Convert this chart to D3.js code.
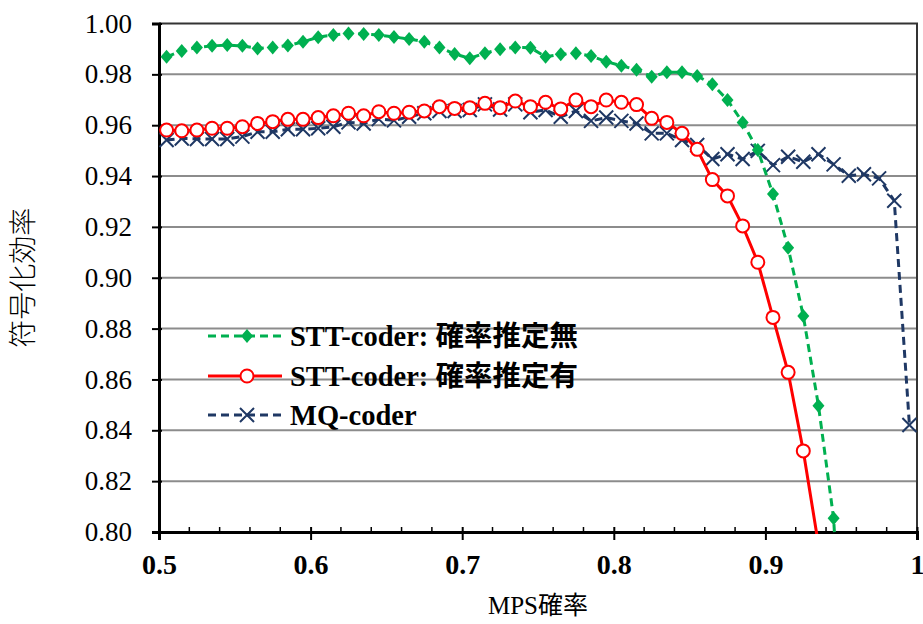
<!DOCTYPE html>
<html>
<head>
<meta charset="utf-8">
<script src="https://cdn.jsdelivr.net/npm/d3@7"></script>
<style>
  body { margin: 0; background: #fff; }
  svg text { font-family: "Liberation Serif", "Times New Roman", "Noto Sans CJK JP", serif; }
</style>
</head>
<body>
<div id="chart"></div>
<script>
// MPS probability (x) for each measured point
var mpsProb = [0.505, 0.515, 0.525, 0.535, 0.545, 0.555, 0.565, 0.575, 0.585, 0.595,
               0.605, 0.615, 0.625, 0.635, 0.645, 0.655, 0.665, 0.675, 0.685, 0.695,
               0.705, 0.715, 0.725, 0.735, 0.745, 0.755, 0.765, 0.775, 0.785, 0.795,
               0.805, 0.815, 0.825, 0.835, 0.845, 0.855, 0.865, 0.875, 0.885, 0.895,
               0.905, 0.915, 0.925, 0.935, 0.945, 0.955, 0.965, 0.975, 0.985, 0.995];

// STT-coder without probability estimation
var sttNoEst = [0.9869, 0.9892, 0.9906, 0.9912, 0.9915, 0.9912, 0.9902, 0.9906, 0.9913, 0.9928,
                0.9946, 0.9955, 0.9961, 0.9959, 0.9955, 0.9947, 0.9939, 0.9928, 0.9906, 0.9880,
                0.9863, 0.9883, 0.9899, 0.9906, 0.9905, 0.9869, 0.9879, 0.9883, 0.9872, 0.9850,
                0.9834, 0.9818, 0.9791, 0.9808, 0.9808, 0.9794, 0.9761, 0.9699, 0.9611, 0.9502,
                0.9329, 0.9118, 0.8850, 0.8497, 0.8054, 0.70];

// STT-coder with probability estimation
var sttEst = [0.9581, 0.9578, 0.9581, 0.9588, 0.9588, 0.9594, 0.9607, 0.9614, 0.9623, 0.9623,
              0.9630, 0.9637, 0.9647, 0.9637, 0.9653, 0.9647, 0.9651, 0.9656, 0.9673, 0.9666,
              0.9669, 0.9686, 0.9669, 0.9695, 0.9673, 0.9690, 0.9664, 0.9699, 0.9673, 0.9699,
              0.9690, 0.9681, 0.9627, 0.9611, 0.9568, 0.9505, 0.9386, 0.9322, 0.9204, 0.9061,
              0.8844, 0.8628, 0.8319, 0.795];

// MQ-coder
var mqCoder = [0.9542, 0.9548, 0.9546, 0.9546, 0.9546, 0.9555, 0.9574, 0.9574, 0.9584, 0.9584,
               0.9588, 0.9594, 0.9611, 0.9607, 0.9624, 0.9619, 0.9633, 0.9647, 0.9656, 0.9656,
               0.9660, 0.9682, 0.9662, 0.9682, 0.9651, 0.9660, 0.9633, 0.9656, 0.9617, 0.9630,
               0.9617, 0.9607, 0.9568, 0.9568, 0.9542, 0.9522, 0.9467, 0.9486, 0.9467, 0.9499,
               0.9443, 0.9476, 0.9456, 0.9486, 0.9446, 0.9401, 0.9407, 0.9391, 0.9303, 0.8421];

var xTicks = [0.5, 0.6, 0.7, 0.8, 0.9, 1.0];
var xTickLabels = ["0.5", "0.6", "0.7", "0.8", "0.9", "1"];
var yTicks = [0.80, 0.82, 0.84, 0.86, 0.88, 0.90, 0.92, 0.94, 0.96, 0.98, 1.00];
var seriesNames = ["STT-coder: 確率推定無", "STT-coder: 確率推定有", "MQ-coder"];

(function() {
  var w = 923, h = 624;
  var mLeft = 159, mRight = 917, mTop = 23.5, mBottom = 532;

  var svg = d3.select("#chart").append("svg")
    .attr("width", w).attr("height", h);

  var x = d3.scaleLinear().domain([0.5, 1.0]).range([mLeft, mRight]);
  var y = d3.scaleLinear().domain([0.8, 1.0]).range([mBottom, mTop]);

  // gridlines
  svg.append("g")
    .selectAll("line")
    .data(yTicks.slice(1, -1))
    .enter().append("line")
    .attr("x1", mLeft).attr("x2", mRight)
    .attr("y1", d => y(d)).attr("y2", d => y(d))
    .attr("stroke", "#8c8c8c").attr("stroke-width", 2);

  // top and right border
  svg.append("path")
    .attr("d", "M" + mLeft + "," + mTop + "H" + mRight + "V" + mBottom)
    .attr("fill", "none").attr("stroke", "#333").attr("stroke-width", 2);

  // y axis
  var yAxis = svg.append("g")
    .attr("transform", "translate(" + mLeft + ",0)")
    .call(d3.axisLeft(y).tickValues(yTicks).tickFormat(d3.format(".2f")).tickSize(7).tickPadding(20));
  yAxis.select(".domain").attr("stroke", "#000").attr("stroke-width", 3);
  yAxis.selectAll(".tick line").attr("stroke", "#000").attr("stroke-width", 2).attr("x2", -7).attr("x1", 3);
  yAxis.selectAll(".tick text").attr("font-size", 27).attr("fill", "#000");

  // x axis
  var xAxis = svg.append("g")
    .attr("transform", "translate(0," + mBottom + ")")
    .call(d3.axisBottom(x).tickValues(xTicks).tickFormat((d, i) => xTickLabels[i]).tickSize(8).tickPadding(14));
  xAxis.select(".domain").attr("stroke", "#000").attr("stroke-width", 3);
  xAxis.selectAll(".tick line").attr("stroke", "#000").attr("stroke-width", 2).attr("y1", -5);
  xAxis.selectAll(".tick text").attr("font-size", 28).attr("font-weight", "bold").attr("fill", "#000");

  // minor ticks every 0.02
  xAxis.append("g").selectAll("line")
    .data(d3.range(0.52, 1.0, 0.02).filter(v => Math.abs(v * 10 - Math.round(v * 10)) > 1e-6))
    .enter().append("line")
    .attr("x1", d => x(d)).attr("x2", d => x(d))
    .attr("y1", -5).attr("y2", 0)
    .attr("stroke", "#000").attr("stroke-width", 1.5);

  // axis titles
  svg.append("text")
    .attr("x", 538).attr("y", 614)
    .attr("text-anchor", "middle")
    .attr("font-size", 25)
    .text("MPS確率");

  svg.append("text")
    .attr("transform", "translate(33," + ((mTop + mBottom) / 2) + ") rotate(-90)")
    .attr("text-anchor", "middle")
    .attr("font-size", 28)
    .style("font-family", "'Noto Sans CJK JP', sans-serif")
    .style("font-weight", 300)
    .text("符号化効率");

  // clip to plot area
  svg.append("clipPath").attr("id", "plotClip")
    .append("rect").attr("x", mLeft - 10).attr("y", mTop - 10)
    .attr("width", mRight - mLeft + 20).attr("height", mBottom - mTop + 12);

  var plot = svg.append("g").attr("clip-path", "url(#plotClip)");

  var line = d3.line().x(d => x(d[0])).y(d => y(d[1]));

  function pairs(vals) {
    return vals.map((v, i) => [mpsProb[i], v]);
  }

  var series = [
    { name: seriesNames[0], data: pairs(sttNoEst), color: "#00b050", dash: "8,5", marker: "diamond" },
    { name: seriesNames[1], data: pairs(sttEst), color: "#ff0000", dash: null, marker: "circle" },
    { name: seriesNames[2], data: pairs(mqCoder), color: "#1f3864", dash: "8,5", marker: "cross" }
  ];

  function drawMarker(g, type, color) {
    if (type === "diamond") {
      g.append("path").attr("d", "M0,-7L6,0L0,7L-6,0Z").attr("fill", color);
    } else if (type === "circle") {
      g.append("circle").attr("r", 6.5).attr("fill", "#fff").attr("stroke", color).attr("stroke-width", 2);
    } else {
      g.append("path").attr("d", "M-7,-7L7,7M-7,7L7,-7").attr("stroke", color).attr("stroke-width", 2);
    }
  }

  // draw MQ first, then red, then green on top
  [2, 1, 0].forEach(function(k) {
    var s = series[k];
    plot.append("path")
      .datum(s.data)
      .attr("d", line)
      .attr("fill", "none")
      .attr("stroke", s.color)
      .attr("stroke-width", 3)
      .attr("stroke-dasharray", s.dash);
    plot.append("g").selectAll("g")
      .data(s.data)
      .enter().append("g")
      .attr("transform", d => "translate(" + x(d[0]) + "," + y(d[1]) + ")")
      .each(function() { drawMarker(d3.select(this), s.marker, s.color); });
  });

  // legend
  var legendY = [336, 376, 415];
  series.forEach(function(s, i) {
    var g = svg.append("g").attr("transform", "translate(0," + legendY[i] + ")");
    g.append("line").attr("x1", 208).attr("x2", 282).attr("y1", 0).attr("y2", 0)
      .attr("stroke", s.color).attr("stroke-width", 3).attr("stroke-dasharray", s.dash);
    var m = g.append("g").attr("transform", "translate(247,0)");
    drawMarker(m, s.marker, s.color);
    g.append("text").attr("x", 290).attr("y", 10)
      .attr("font-size", 28.5).attr("font-weight", "bold")
      .text(s.name);
  });
})();
</script>
</body>
</html>
